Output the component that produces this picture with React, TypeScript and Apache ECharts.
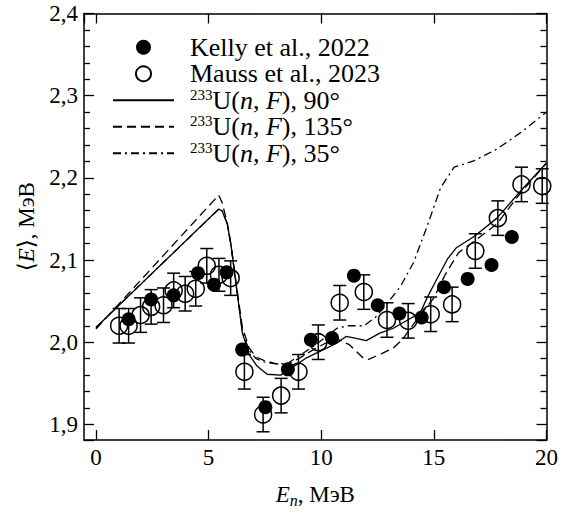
import React, { useEffect, useRef } from "react";
import * as echarts from "echarts";

// Kelly et al., 2022 (filled circles)
const energyKelly = [1.45, 2.45, 3.45, 4.53, 5.24, 5.8, 6.49, 7.52, 8.52, 9.54, 10.48, 11.45, 12.51, 13.47, 14.46, 15.45, 16.5, 17.56, 18.46];
const meanKelly = [2.028, 2.052, 2.057, 2.084, 2.07, 2.085, 1.991, 1.921, 1.967, 2.003, 2.005, 2.081, 2.045, 2.035, 2.03, 2.067, 2.077, 2.094, 2.128];

// Mauss et al., 2023 (open circles with error bars)
const energyMauss = [1.03, 1.45, 1.98, 2.45, 3.0, 3.45, 3.96, 4.43, 4.92, 5.46, 5.98, 6.59, 7.42, 8.22, 8.99, 9.87, 10.82, 11.89, 12.92, 13.86, 14.86, 15.81, 16.84, 17.84, 18.89, 19.81];
const meanMauss = [2.02, 2.02, 2.033, 2.043, 2.045, 2.063, 2.059, 2.065, 2.093, 2.082, 2.078, 1.964, 1.912, 1.935, 1.964, 2.0, 2.048, 2.061, 2.027, 2.026, 2.034, 2.046, 2.111, 2.151, 2.192, 2.19];
const errMauss = [0.021, 0.021, 0.021, 0.021, 0.021, 0.021, 0.021, 0.021, 0.021, 0.02, 0.021, 0.021, 0.021, 0.021, 0.021, 0.021, 0.021, 0.021, 0.021, 0.021, 0.021, 0.021, 0.021, 0.021, 0.021, 0.021];

// 233U(n,F), 90°
const energy90 = [0, 5.45, 5.6, 5.83, 6.0, 6.15, 6.3, 6.5, 6.8, 7.15, 7.6, 8.2, 8.6, 9.35, 10.1, 10.7, 11.1, 11.5, 12.0, 12.6, 13.2, 13.9, 14.4, 14.7, 15.0, 15.6, 16.0, 16.8, 17.8, 18.85, 20];
const mean90 = [2.018, 2.162, 2.16, 2.144, 2.117, 2.085, 2.054, 2.011, 1.985, 1.971, 1.961, 1.96, 1.967, 1.981, 1.991, 1.999, 2.007, 2.005, 2.002, 2.011, 2.017, 2.028, 2.036, 2.054, 2.07, 2.101, 2.115, 2.129, 2.151, 2.184, 2.218];

// 233U(n,F), 135°
const energy135 = [0, 5.45, 5.6, 5.83, 6.0, 6.15, 6.3, 6.5, 6.8, 7.1, 7.45, 7.95, 8.4, 9.0, 9.6, 10.2, 10.7, 11.25, 11.85, 12.1, 12.75, 13.2, 13.6, 14.2, 15.0, 15.5, 16.1, 16.8, 17.8, 18.8, 20];
const mean135 = [2.016, 2.179, 2.17, 2.145, 2.118, 2.087, 2.057, 2.018, 1.993, 1.982, 1.978, 1.974, 1.972, 1.98, 1.99, 1.999, 2.004, 1.997, 1.981, 1.979, 1.987, 1.993, 2.003, 2.026, 2.054, 2.082, 2.109, 2.123, 2.144, 2.18, 2.218];

// 233U(n,F), 35°
const energy35 = [0, 5.45, 5.6, 5.83, 6.0, 6.15, 6.3, 6.5, 6.8, 7.1, 7.45, 7.95, 8.5, 9.0, 9.6, 10.2, 10.7, 11.2, 11.9, 12.4, 12.95, 13.5, 14.1, 14.7, 15.3, 15.9, 16.8, 17.8, 18.85, 20];
const mean35 = [2.018, 2.162, 2.16, 2.144, 2.117, 2.085, 2.054, 2.013, 1.99, 1.98, 1.976, 1.974, 1.974, 1.983, 1.994, 2.006, 2.017, 2.02, 2.02, 2.03, 2.048, 2.067, 2.097, 2.141, 2.188, 2.213, 2.221, 2.235, 2.255, 2.28];

const legendLabels: Record<string, string> = {
  "Kelly et al., 2022": "Kelly et al., 2022",
  "Mauss et al., 2023": "Mauss et al., 2023",
  U90: "{sup|233}U({it|n}, {it|F}), 90°",
  U135: "{sup|233}U({it|n}, {it|F}), 135°",
  U35: "{sup|233}U({it|n}, {it|F}), 35°",
};

const FONT = "'Liberation Serif', 'DejaVu Serif', serif";

const zip = (xs: number[], ys: number[]) => xs.map((x, i) => [x, ys[i]]);

export default function App() {
  const ref = useRef<HTMLDivElement>(null);
  useEffect(() => {
    if (!ref.current) return;
    const chart = echarts.init(ref.current, undefined, { renderer: "svg" });
    const axisLine = { show: true, onZero: false, lineStyle: { color: "#000", width: 1.5 } };
    const tickStyle = { color: "#000", width: 1.3 };
    const xBase = {
      type: "value" as const,
      min: -0.53,
      max: 20,
      splitNumber: 4,
      axisLine,
      splitLine: { show: false },
      axisTick: { show: true, inside: true, length: 10, lineStyle: tickStyle },
    };
    const yBase = {
      type: "value" as const,
      min: 1.881,
      max: 2.4,
      splitNumber: 5,
      axisLine,
      splitLine: { show: false },
      axisTick: { show: true, inside: true, length: 10, lineStyle: tickStyle },
      minorTick: { show: true, splitNumber: 5, length: 6, lineStyle: tickStyle },
      minorSplitLine: { show: false },
    };
    const lineSeries = (name: string, xs: number[], ys: number[], type: any) => ({
      name,
      type: "line",
      data: zip(xs, ys),
      symbol: "none",
      showSymbol: false,
      smooth: false,
      z: 2,
      lineStyle: { color: "#000", width: 1.3, type },
      itemStyle: { color: "#000" },
    });
    const hiddenIcon = { color: "rgba(0,0,0,0)", borderColor: "rgba(0,0,0,0)", borderWidth: 0, opacity: 0 };
    chart.setOption({
      animation: false,
      backgroundColor: "#fff",
      textStyle: { fontFamily: FONT },
      grid: { left: 84, right: 11, top: 13.5, bottom: 60, containLabel: false },
      xAxis: [
        {
          ...xBase,
          position: "bottom",
          axisLabel: { color: "#000", fontFamily: FONT, fontSize: 23, margin: 6 },
          name: "{it|E}{sub|n}, МэВ",
          nameLocation: "middle",
          nameGap: 40,
          nameTextStyle: {
            color: "#000",
            fontFamily: FONT,
            fontSize: 23,
            lineHeight: 28,
            rich: {
              it: { fontFamily: FONT, fontSize: 23, fontStyle: "italic", color: "#000" },
              sub: { fontFamily: FONT, fontSize: 16, fontStyle: "italic", color: "#000", verticalAlign: "bottom", lineHeight: 16 },
            },
          },
        },
        { ...xBase, position: "top", axisLabel: { show: false } },
      ],
      yAxis: [
        {
          ...yBase,
          position: "left",
          axisLabel: {
            color: "#000",
            fontFamily: FONT,
            fontSize: 23,
            margin: 6,
            formatter: (v: number) => v.toFixed(1).replace(".", ","),
          },
          name: "⟨{it|E}⟩, МэВ",
          nameLocation: "middle",
          nameGap: 43,
          nameTextStyle: {
            color: "#000",
            fontFamily: FONT,
            fontSize: 23,
            rich: { it: { fontFamily: FONT, fontSize: 23, fontStyle: "italic", color: "#000" } },
          },
        },
        { ...yBase, position: "right", axisLabel: { show: false } },
      ],
      legend: {
        data: [
          { name: "Kelly et al., 2022" },
          { name: "Mauss et al., 2023" },
          { name: "U90", itemStyle: hiddenIcon },
          { name: "U135", itemStyle: hiddenIcon },
          { name: "U35", itemStyle: hiddenIcon },
        ],
        orient: "vertical",
        left: 112,
        top: 34,
        padding: 0,
        itemWidth: 61,
        itemHeight: 15,
        itemGap: 0,
        selectedMode: false,
        formatter: (name: string) => legendLabels[name],
        textStyle: {
          color: "#000",
          fontFamily: FONT,
          fontSize: 26,
          lineHeight: 26.5,
          padding: [0, 0, 0, 11],
          rich: {
            sup: { fontFamily: FONT, fontSize: 15, lineHeight: 15, verticalAlign: "top", color: "#000" },
            it: { fontFamily: FONT, fontSize: 26, fontStyle: "italic", color: "#000" },
          },
        },
      },
      series: [
        lineSeries("U90", energy90, mean90, "solid"),
        lineSeries("U135", energy135, mean135, [9, 5]),
        lineSeries("U35", energy35, mean35, [8, 4, 2, 4]),
        {
          name: "errors",
          type: "custom",
          z: 3,
          data: energyMauss.map((x, i) => [x, meanMauss[i] - errMauss[i], meanMauss[i] + errMauss[i]]),
          encode: { x: 0, y: [1, 2] },
          renderItem: (params: any, api: any) => {
            const x = api.value(0);
            const lo = api.coord([x, api.value(1)]);
            const hi = api.coord([x, api.value(2)]);
            const w = 6.5;
            const style = { stroke: "#000", lineWidth: 1.5 };
            return {
              type: "group",
              children: [
                { type: "line", shape: { x1: lo[0], y1: lo[1], x2: hi[0], y2: hi[1] }, style },
                { type: "line", shape: { x1: lo[0] - w, y1: lo[1], x2: lo[0] + w, y2: lo[1] }, style },
                { type: "line", shape: { x1: hi[0] - w, y1: hi[1], x2: hi[0] + w, y2: hi[1] }, style },
              ],
            };
          },
        },
        {
          name: "Mauss et al., 2023",
          type: "scatter",
          z: 4,
          data: zip(energyMauss, meanMauss),
          symbol: "circle",
          symbolSize: 17,
          itemStyle: { color: "rgba(255,255,255,0)", borderColor: "#000", borderWidth: 1.5, opacity: 1 },
        },
        {
          name: "Kelly et al., 2022",
          type: "scatter",
          z: 5,
          data: zip(energyKelly, meanKelly),
          symbol: "circle",
          symbolSize: 14,
          itemStyle: { color: "#000", opacity: 1 },
        },
      ],
    });
    return () => chart.dispose();
  }, []);
  return <div ref={ref} style={{ position: "fixed", left: 0, top: 0, width: 561, height: 513 }} />;
}
